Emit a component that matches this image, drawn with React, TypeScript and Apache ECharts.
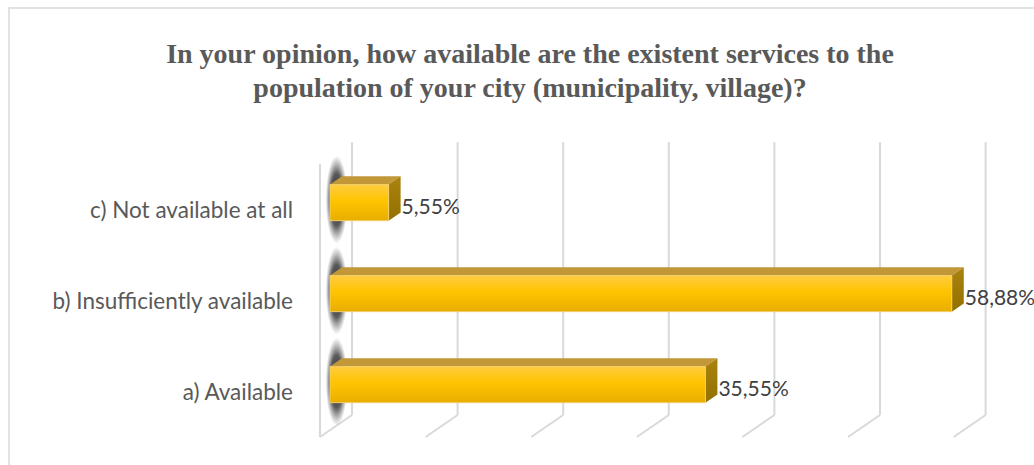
import React, { useEffect, useRef } from "react";
import * as echarts from "echarts";

const categories = ["a) Available", "b) Insufficiently available", "c) Not available at all"];
const values = [35.55, 58.88, 5.55];
const ticks = [0, 10, 20, 30, 40, 50, 60];
const titleText = "In your opinion, how available are the existent services to the\npopulation of your city (municipality, village)?";

// 3D projection geometry (front plane -> back wall)
const DX = 32;
const DY = -22;
const BAR_FRONT = 0.3125;
const BAR_BACK = 0.6875;
const GRID_COLOR = "#d9d9d9";

const fmt = (v: number) => v.toFixed(2).replace(".", ",") + "%";

export default function App() {
  const ref = useRef<HTMLDivElement>(null);
  useEffect(() => {
    if (!ref.current) return;
    const chart = echarts.init(ref.current, null, { renderer: "svg" });
    const option: any = {
      animation: false,
      backgroundColor: "#ffffff",
      title: {
        text: titleText,
        left: 525,
        top: 31,
        textAlign: "center",
        textStyle: {
          fontFamily: "Liberation Serif",
          fontSize: 28,
          fontWeight: "bold",
          lineHeight: 34,
          color: "#595959",
        },
      },
      graphic: [
        {
          type: "rect",
          z: -10,
          shape: { x: 9, y: 8, width: 1100, height: 600 },
          style: { fill: "none", stroke: GRID_COLOR, lineWidth: 1.5 },
          silent: true,
        },
      ],
      grid: { left: 320, top: 164, width: 633.6, height: 273 },
      xAxis: {
        type: "value",
        min: 0,
        max: 60,
        interval: 10,
        show: false,
      },
      yAxis: {
        type: "category",
        data: categories,
        axisLine: { show: false },
        axisTick: { show: false },
        splitLine: { show: false },
        axisLabel: {
          margin: 27,
          color: "#595959",
          fontSize: 22.5,
          fontFamily: "Lato",
        },
      },
      series: [
        {
          type: "custom",
          silent: true,
          clip: false,
          z: 1,
          data: ticks.map((t) => [t, 0]),
          encode: { x: 0, y: 1 },
          renderItem: (params: any, api: any) => {
            const v = api.value(0);
            const p = api.coord([v, 0]);
            const cs = params.coordSys;
            const x = p[0];
            const top = cs.y;
            const bottom = cs.y + cs.height;
            const children: any[] = [
              {
                type: "line",
                shape: { x1: x + DX, y1: top + DY, x2: x + DX, y2: bottom + DY },
                style: { stroke: GRID_COLOR, lineWidth: 2 },
              },
              {
                type: "line",
                shape: { x1: x + DX, y1: bottom + DY, x2: x, y2: bottom },
                style: { stroke: GRID_COLOR, lineWidth: 2 },
              },
            ];
            if (v === 0) {
              children.push({
                type: "line",
                shape: { x1: x, y1: top, x2: x, y2: bottom },
                style: { stroke: GRID_COLOR, lineWidth: 2 },
              });
            }
            return { type: "group", children };
          },
        },
        {
          type: "custom",
          clip: false,
          z: 2,
          data: values.map((v, i) => [v, i]),
          encode: { x: 0, y: 1 },
          renderItem: (params: any, api: any) => {
            const v = api.value(0);
            const ci = api.value(1);
            const p0 = api.coord([0, ci]);
            const p1 = api.coord([v, ci]);
            const band = api.size([0, 1])[1];
            const hh = band * 0.198;
            const fx0 = p0[0] + DX * BAR_FRONT;
            const fx1 = p1[0] + DX * BAR_FRONT;
            const fy = p0[1] + DY * BAR_FRONT;
            const dx = DX * (BAR_BACK - BAR_FRONT);
            const dy = DY * (BAR_BACK - BAR_FRONT);
            const yT = fy - hh;
            const yB = fy + hh;
            const wallX = p0[0] + DX * 0.52;
            return {
              type: "group",
              children: [
                {
                  type: "ellipse",
                  shape: { cx: wallX, cy: fy - 3, rx: 11, ry: 44 },
                  style: {
                    fill: new echarts.graphic.RadialGradient(0.5, 0.5, 0.5, [
                      { offset: 0, color: "rgba(30,30,30,1)" },
                      { offset: 0.6, color: "rgba(50,50,50,0.8)" },
                      { offset: 1, color: "rgba(90,90,90,0)" },
                    ]),
                  },
                },
                {
                  type: "polygon",
                  shape: {
                    points: [
                      [fx0, yT],
                      [fx0 + dx, yT + dy],
                      [fx1 + dx, yT + dy],
                      [fx1, yT],
                    ],
                  },
                  style: { fill: "#c29738" },
                },
                {
                  type: "polygon",
                  shape: {
                    points: [
                      [fx1, yT],
                      [fx1 + dx, yT + dy],
                      [fx1 + dx, yB + dy],
                      [fx1, yB],
                    ],
                  },
                  style: {
                    fill: new echarts.graphic.LinearGradient(0, 0, 0, 1, [
                      { offset: 0, color: "#a9830e" },
                      { offset: 1, color: "#937000" },
                    ]),
                  },
                },
                {
                  type: "rect",
                  shape: { x: fx0, y: yT, width: fx1 - fx0, height: yB - yT },
                  style: {
                    fill: new echarts.graphic.LinearGradient(0, 0, 0, 1, [
                      { offset: 0, color: "#ffcc40" },
                      { offset: 0.45, color: "#ffc400" },
                      { offset: 1, color: "#e8ae00" },
                    ]),
                    stroke: "#f2cf6a",
                    lineWidth: 1,
                  },
                },
                {
                  type: "text",
                  style: {
                    text: fmt(v),
                    x: fx1 + dx + 1,
                    y: fy + 3,
                    textAlign: "left",
                    textVerticalAlign: "middle",
                    fill: "#404040",
                    fontSize: 21,
                    fontFamily: "Lato",
                  },
                },
              ],
            };
          },
        },
      ],
    };
    chart.setOption(option);
    return () => chart.dispose();
  }, []);
  return (
    <div
      ref={ref}
      style={{ position: "absolute", left: 0, top: 0, width: 1034, height: 465 }}
    />
  );
}
